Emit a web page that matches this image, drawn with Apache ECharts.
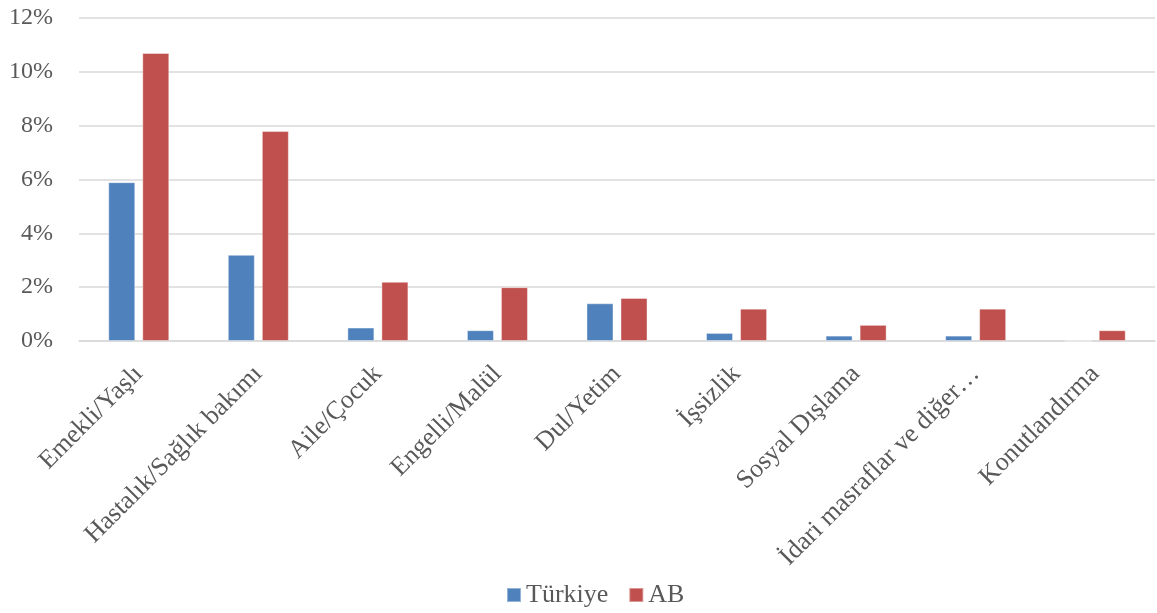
<!DOCTYPE html>
<html>
<head>
<meta charset="utf-8">
<script src="https://cdn.jsdelivr.net/npm/echarts@6/dist/echarts.min.js"></script>
<style>
  html, body { margin: 0; padding: 0; background: #fff; }
  #chart { width: 1157px; height: 613px; }
</style>
</head>
<body>
<div id="chart"></div>
<script>
  var categories = ['Emekli/Yaşlı', 'Hastalık/Sağlık bakımı', 'Aile/Çocuk', 'Engelli/Malül', 'Dul/Yetim',
    'İşsizlik', 'Sosyal Dışlama', 'İdari masraflar ve diğer…', 'Konutlandırma']
  var turkiye = [5.9, 3.2, 0.5, 0.4, 1.4, 0.3, 0.2, 0.2, 0]
  var ab = [10.7, 7.8, 2.2, 2.0, 1.6, 1.2, 0.6, 1.2, 0.4]

  var font = "'Liberation Serif', 'Times New Roman', serif"
  var chart = echarts.init(document.getElementById('chart'))
  var option = {
    animation: false,
    backgroundColor: '#ffffff',
    color: ['#4f81bd', '#c0504d'],
    grid: {
      left: 79,
      right: 2,
      top: 18,
      bottom: 272
    },
    legend: {
      left: 506,
      top: 582,
      padding: 0,
      itemWidth: 14,
      itemHeight: 14,
      itemGap: 20,
      icon: 'rect',
      textStyle: { fontFamily: font, fontSize: 26, color: '#595959' },
      data: ['Türkiye', 'AB']
    },
    xAxis: {
      type: 'category',
      data: categories,
      axisLine: { lineStyle: { color: '#d9d9d9', width: 1.5 } },
      axisTick: { show: false },
      axisLabel: {
        rotate: 45,
        interval: 0,
        margin: 29,
        fontFamily: font,
        fontSize: 26,
        color: '#595959'
      }
    },
    yAxis: {
      type: 'value',
      min: 0,
      max: 12,
      interval: 2,
      axisLine: { show: false },
      axisTick: { show: false },
      splitLine: { lineStyle: { color: '#d9d9d9', width: 1.5 } },
      axisLabel: {
        formatter: '{value}%',
        margin: 26,
        fontFamily: font,
        fontSize: 24,
        color: '#595959'
      }
    },
    series: [
      {
        name: 'Türkiye',
        type: 'bar',
        data: turkiye,
        barWidth: 27,
        barGap: '26%',
        itemStyle: { borderColor: 'rgba(255,255,255,0.4)', borderWidth: 1 }
      },
      {
        name: 'AB',
        type: 'bar',
        data: ab,
        barWidth: 27,
        itemStyle: { borderColor: 'rgba(255,255,255,0.4)', borderWidth: 1 }
      }
    ]
  }
  chart.setOption(option)
</script>
</body>
</html>
